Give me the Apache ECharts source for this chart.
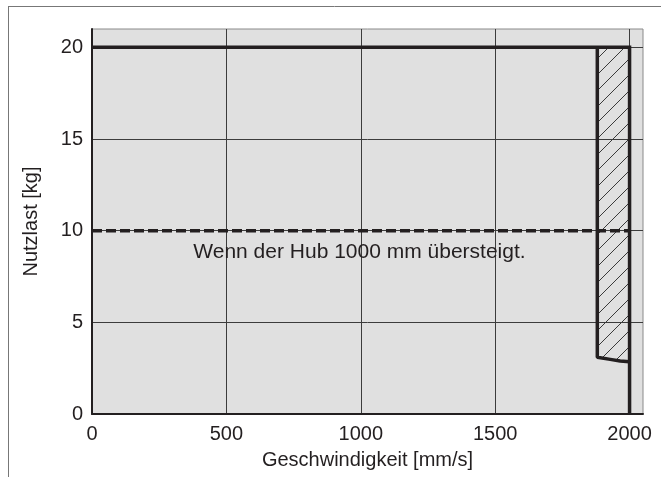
<!DOCTYPE html>
<html>
<head>
<meta charset="utf-8">
<script src="https://cdn.jsdelivr.net/npm/echarts@6/dist/echarts.min.js"></script>
<style>
html,body{margin:0;padding:0;background:#fff;}
#chart{width:661px;height:477px;}
</style>
</head>
<body>
<div id="chart"></div>
<script>
// ---- data ----
var xTicks = [0, 500, 1000, 1500, 2000];
var yTicks = [0, 5, 10, 15, 20];
var topLineX = [0, 2000, 2000];
var topLineY = [20, 20, 0];
var dashLineX = [0, 2000];
var dashLineY = [10, 10];
var limitX = [1880, 1880, 1928, 1965, 2000];
var limitY = [20, 3.09, 2.98, 2.89, 2.85];
var noteText = 'Wenn der Hub 1000 mm übersteigt.';
var notePos = [995, 8.8];
var xName = 'Geschwindigkeit [mm/s]';
var yName = 'Nutzlast [kg]';

function zip(a, b) { return a.map(function (v, i) { return [v, b[i]]; }); }

// hatch pattern
var tile = document.createElement('canvas');
tile.width = 16; tile.height = 16;
var c = tile.getContext('2d');
c.strokeStyle = '#3a3a3a';
c.lineWidth = 1;
c.beginPath();
c.moveTo(-2, 18); c.lineTo(18, -2);
c.stroke();

var FONT = 'Liberation Sans, Arial, Helvetica, sans-serif';
var INK = '#231f20';

var chart = echarts.init(document.getElementById('chart'), null, {renderer: 'canvas'});
chart.setOption({
  animation: false,
  backgroundColor: '#ffffff',
  textStyle: {fontFamily: FONT},
  grid: {
    left: 92, top: 29, right: 18, bottom: 63,
    show: true, backgroundColor: '#e0e0e0', borderColor: '#8a8a8a', borderWidth: 1
  },
  xAxis: {
    type: 'value', min: 0, max: 2050, interval: 500,
    name: xName, nameLocation: 'middle', nameGap: 36,
    nameTextStyle: {fontSize: 20, color: INK, fontFamily: FONT},
    axisLine: {show: true, onZero: false, lineStyle: {color: INK, width: 2}},
    axisTick: {show: false},
    axisLabel: {fontSize: 20, color: INK, margin: 10, fontFamily: FONT,
      formatter: function (v) { return xTicks.indexOf(v) >= 0 ? String(v) : ''; }},
    splitLine: {show: true, showMinLine: false, showMaxLine: false, lineStyle: {color: '#3c3c3c', width: 1}}
  },
  yAxis: {
    type: 'value', min: 0, max: 21, interval: 5,
    name: yName, nameLocation: 'middle', nameGap: 51, nameRotate: 90,
    nameTextStyle: {fontSize: 20, color: INK, fontFamily: FONT},
    axisLine: {show: true, onZero: false, lineStyle: {color: INK, width: 2}},
    axisTick: {show: false},
    axisLabel: {fontSize: 20, color: INK, margin: 9, fontFamily: FONT,
      formatter: function (v) { return yTicks.indexOf(v) >= 0 ? String(v) : ''; }},
    splitLine: {show: true, showMinLine: false, showMaxLine: false, lineStyle: {color: '#3c3c3c', width: 1}}
  },
  series: [
    {
      type: 'custom',
      coordinateSystem: 'cartesian2d',
      data: [[limitX[0], limitY[0]]],
      z: 2,
      silent: true,
      renderItem: function (params, api) {
        var pts = [];
        pts.push(api.coord([limitX[limitX.length - 1], topLineY[0]]));
        for (var i = 0; i < limitX.length; i++) pts.push(api.coord([limitX[i], limitY[i]]));
        return {
          type: 'polygon',
          shape: {points: pts},
          style: {fill: {image: tile, repeat: 'repeat'}, stroke: null}
        };
      }
    },
    {
      type: 'line', data: zip(dashLineX, dashLineY), symbol: 'none', z: 3, silent: true,
      lineStyle: {color: INK, width: 3.5, type: [10, 4]}
    },
    {
      type: 'line', data: zip(limitX, limitY), symbol: 'none', z: 4, silent: true,
      lineStyle: {color: INK, width: 3.5}
    },
    {
      type: 'line', data: zip(topLineX, topLineY), symbol: 'none', z: 4, silent: true,
      lineStyle: {color: INK, width: 3.5, join: 'miter'}
    }
  ]
});

var p = chart.convertToPixel({gridIndex: 0}, notePos);
chart.setOption({
  graphic: [
    {type: 'line', shape: {x1: 8.5, y1: 6, x2: 8.5, y2: 477}, style: {stroke: '#777', lineWidth: 1}, silent: true},
    {type: 'line', shape: {x1: 8, y1: 6.5, x2: 661, y2: 6.5}, style: {stroke: '#777', lineWidth: 1}, silent: true},
    {type: 'text', x: p[0], y: p[1], z: 10, silent: true,
      style: {text: noteText, fill: INK, font: '21px ' + FONT, align: 'center', verticalAlign: 'middle'}}
  ]
});
</script>
</body>
</html>
